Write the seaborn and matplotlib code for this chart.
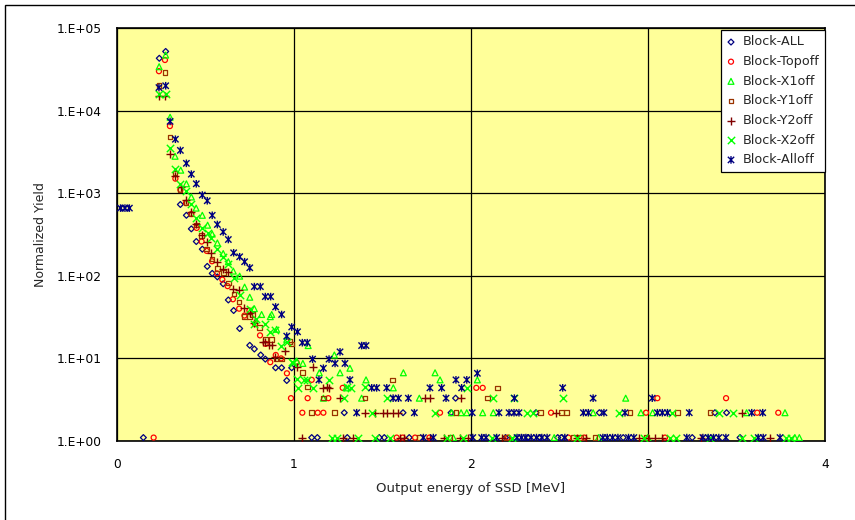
import numpy as np
import pandas as pd
import matplotlib
matplotlib.use("Agg")
import matplotlib.pyplot as plt
from matplotlib.path import Path
from matplotlib.patches import Rectangle
from matplotlib.ticker import FixedLocator, FixedFormatter
import seaborn as sns

# ---------------- data ----------------
all_x = [0.03, 0.06, 0.149, 0.239, 0.275, 0.358, 0.392, 0.42, 0.448, 0.482, 0.51, 0.538, 0.567, 0.60,
         0.629, 0.659, 0.693, 0.75, 0.776, 0.812, 0.838, 0.896, 0.93, 0.959, 0.987, 1.10, 1.132, 1.284,
         1.301, 1.482, 1.51, 1.616, 1.651, 1.887, 1.913, 2.195, 2.32, 2.367, 2.39, 2.49, 2.51, 2.725,
         2.86, 3.25, 3.378, 3.444, 3.52]
all_y = [660, 660, 1.1, 43000, 52000, 730, 540, 370, 260, 210, 130, 107, 97, 80,
         51, 38, 23, 14.4, 13, 11, 9.8, 7.7, 7.7, 5.4, 7.7, 1.1, 1.1, 2.2,
         1.1, 1.1, 1.1, 2.2, 1.1, 2.2, 3.3, 1.1, 1.1, 2.2, 1.1, 1.1, 1.1, 2.2,
         1.1, 1.1, 2.2, 2.2, 1.1]

top_x = [0.207, 0.237, 0.271, 0.299, 0.33, 0.358, 0.39, 0.42, 0.45, 0.478, 0.507, 0.537, 0.565, 0.595,
         0.625, 0.655, 0.69, 0.72, 0.748, 0.78, 0.808, 0.84, 0.866, 0.897, 0.927, 0.96, 0.983, 1.015,
         1.047, 1.077, 1.10, 1.134, 1.166, 1.194, 1.275, 1.58, 1.614, 1.684, 1.765, 1.825, 2.03, 2.066,
         2.21, 2.452, 2.55, 2.64, 2.989, 3.053, 3.096, 3.441, 3.617, 3.736]
top_y = [1.1, 30000, 41000, 6500, 1500, 1100, 760, 560, 380, 260, 200, 150, 107, 90,
         75, 52, 40, 33, 38, 26, 19, 15, 9.0, 11, 10, 6.6, 3.3, 8.9,
         2.2, 3.3, 5.5, 2.2, 2.2, 3.3, 4.4, 1.1, 1.1, 1.1, 1.1, 2.2, 4.4, 4.4,
         1.1, 2.2, 1.1, 1.1, 2.2, 3.3, 1.1, 3.3, 2.2, 2.2]

x1_x = [0.238, 0.275, 0.30, 0.328, 0.36, 0.392, 0.42, 0.447, 0.482, 0.512, 0.538, 0.567, 0.60, 0.629,
        0.657, 0.693, 0.721, 0.75, 0.776, 0.817, 0.866, 0.874, 0.902, 0.959, 1.015, 1.05, 1.08, 1.143,
        1.166, 1.228, 1.26, 1.294, 1.316, 1.382, 1.407, 1.561, 1.618, 1.708, 1.797, 1.825, 1.89, 1.90,
        1.944, 1.976, 2.036, 2.066, 2.126, 2.25, 2.47, 2.69, 2.72, 2.874, 2.96, 3.0, 3.026, 3.557,
        3.774, 3.83, 3.855]
x1_y = [34000, 47000, 8300, 2800, 1900, 1300, 900, 660, 540, 410, 320, 250, 186, 148,
        114, 99, 73, 55, 40, 34, 32, 34, 22.5, 17, 9.3, 8.7, 14.3, 6.7,
        3.3, 11, 6.7, 4.4, 7.6, 3.3, 5.5, 4.4, 6.7, 3.3, 6.7, 5.5, 2.2, 1.1,
        2.2, 2.2, 5.5, 2.2, 2.2, 1.1, 1.1, 2.2, 1.1, 3.3, 2.2, 1.1, 2.2, 2.2,
        2.2, 1.1, 1.1]

y1_x = [0.237, 0.271, 0.299, 0.328, 0.356, 0.39, 0.418, 0.448, 0.478, 0.507, 0.537, 0.567, 0.60, 0.629,
        0.66, 0.69, 0.72, 0.748, 0.767, 0.804, 0.838, 0.874, 0.898, 0.93, 0.977, 0.987, 1.047, 1.075,
        1.10, 1.166, 1.228, 1.401, 1.557, 1.708, 1.881, 1.915, 2.094, 2.15, 2.20, 2.393, 2.512, 2.54,
        2.578, 2.62, 2.70, 2.898, 2.99, 3.167, 3.35]
y1_y = [20000, 29000, 4800, 1750, 1100, 770, 560, 410, 310, 210, 160, 123, 110, 82,
        60, 48, 32, 32, 34, 23.6, 17, 17, 9.8, 9.8, 16, 15, 6.8, 4.5,
        2.2, 3.3, 2.2, 3.3, 5.5, 1.1, 1.1, 2.2, 3.3, 4.4, 1.1, 2.2, 2.2, 2.2,
        1.1, 1.1, 1.1, 2.2, 1.1, 2.2, 2.2]

y2_x = [0.237, 0.271, 0.30, 0.33, 0.36, 0.39, 0.418, 0.447, 0.478, 0.51, 0.533, 0.567, 0.60, 0.629,
        0.657, 0.69, 0.72, 0.75, 0.776, 0.823, 0.836, 0.86, 0.874, 0.893, 0.949, 1.019, 1.047, 1.105,
        1.166, 1.185, 1.198, 1.26, 1.275, 1.335, 1.40, 1.46, 1.50, 1.525, 1.56, 1.59, 1.60, 1.621,
        1.74, 1.768, 1.766, 1.847, 1.938, 1.944, 1.985, 2.173, 2.48, 2.60, 2.65, 2.95, 3.0, 3.04,
        3.08, 3.30, 3.529, 3.69]
y2_y = [15000, 15000, 3000, 1600, 1200, 830, 600, 420, 310, 260, 190, 145, 120, 110,
        69, 67, 41, 35, 27, 16, 16, 14.5, 14.5, 10.5, 12.4, 7.8, 1.1, 7.8,
        4.4, 4.5, 4.4, 3.3, 1.1, 1.1, 2.2, 2.2, 2.2, 2.2, 2.2, 2.2, 1.1, 1.1,
        3.3, 3.3, 1.1, 1.1, 1.1, 3.3, 1.1, 1.1, 2.2, 1.1, 1.1, 1.1, 1.1, 1.1,
        1.1, 1.1, 2.2, 1.1]

x2_x = [0.237, 0.275, 0.30, 0.33, 0.358, 0.39, 0.42, 0.447, 0.482, 0.512, 0.533, 0.567, 0.60, 0.629,
        0.663, 0.695, 0.752, 0.774, 0.785, 0.836, 0.864, 0.893, 0.927, 0.96, 0.987, 0.997, 1.015, 1.02,
        1.056, 1.071, 1.109, 1.198, 1.213, 1.241, 1.284, 1.297, 1.322, 1.363, 1.40, 1.439, 1.458, 1.524,
        1.542, 1.797, 1.862, 1.957, 1.98, 2.117, 2.126, 2.23, 2.245, 2.314, 2.352, 2.518, 2.60, 2.838,
        2.98, 3.124, 3.137, 3.16, 3.35, 3.403, 3.478, 3.53, 3.60, 3.78, 3.81]
x2_y = [16000, 16000, 3500, 1950, 1300, 1050, 730, 500, 380, 330, 290, 210, 170, 140,
        93, 58, 40, 26, 30, 26, 21, 22, 14, 16, 9.1, 8.7, 5.7, 4.4,
        5.5, 5.5, 4.4, 5.5, 1.1, 1.1, 3.3, 4.5, 4.4, 1.1, 4.5, 2.2, 1.1, 3.3,
        1.1, 2.2, 1.1, 1.1, 4.4, 1.1, 3.3, 1.1, 3.3, 2.2, 2.2, 3.3, 1.1, 2.2,
        1.1, 1.1, 2.2, 1.1, 1.1, 2.2, 2.2, 1.1, 1.1, 1.1, 1.1]

aoff_x = [0.02, 0.045, 0.07, 0.237, 0.275, 0.30, 0.33, 0.358, 0.392, 0.42, 0.448, 0.482, 0.51, 0.538,
          0.567, 0.60, 0.629, 0.659, 0.693, 0.721, 0.75, 0.776, 0.81, 0.838, 0.868, 0.896, 0.93, 0.959,
          0.987, 1.02, 1.047, 1.075, 1.105, 1.141, 1.166, 1.198, 1.232, 1.26, 1.288, 1.316, 1.354, 1.382,
          1.407, 1.439, 1.467, 1.524, 1.56, 1.59, 1.646, 1.68, 1.731, 1.768, 1.787, 1.834, 1.859, 1.915,
          1.947, 1.976, 2.007, 2.01, 2.036, 2.06, 2.085, 2.145, 2.158, 2.215, 2.243, 2.245, 2.26, 2.271,
          2.285, 2.31, 2.34, 2.37, 2.40, 2.43, 2.518, 2.53, 2.635, 2.663, 2.69, 2.745, 2.751, 2.77,
          2.80, 2.83, 2.87, 2.89, 2.92, 3.024, 3.053, 3.081, 3.11, 3.219, 3.233, 3.31, 3.34, 3.37,
          3.40, 3.44, 3.586, 3.623, 3.648, 3.651, 3.746]
aoff_y = [660, 660, 660, 19000, 20000, 7400, 4500, 3300, 2300, 1700, 1300, 950, 810, 540,
          418, 340, 275, 190, 170, 148, 125, 74, 74, 56, 56, 42, 34, 18.6,
          24, 21, 15.5, 15.5, 9.8, 5.5, 7.6, 9.8, 8.7, 12, 8.7, 5.5, 2.2, 14.3,
          14.3, 4.4, 4.4, 4.4, 3.3, 3.3, 3.3, 2.2, 1.1, 4.4, 1.1, 4.4, 3.3, 5.5,
          4.4, 5.5, 2.2, 1.1, 6.6, 1.1, 1.1, 1.1, 2.2, 2.2, 2.2, 3.3, 1.1, 2.2,
          1.1, 1.1, 1.1, 1.1, 1.1, 1.1, 4.4, 1.1, 2.2, 2.2, 3.3, 1.1, 2.2, 1.1,
          1.1, 1.1, 2.2, 1.1, 1.1, 3.3, 2.2, 2.2, 2.2, 1.1, 2.2, 1.1, 1.1, 1.1,
          1.1, 1.1, 2.2, 1.1, 2.2, 1.1, 1.1]

series_names = ["Block-ALL", "Block-Topoff", "Block-X1off", "Block-Y1off",
                "Block-Y2off", "Block-X2off", "Block-Alloff"]
series_x = [all_x, top_x, x1_x, y1_x, y2_x, x2_x, aoff_x]
series_y = [all_y, top_y, x1_y, y1_y, y2_y, x2_y, aoff_y]

x_ticks = [0, 1, 2, 3, 4]
x_tick_labels = ["0", "1", "2", "3", "4"]
y_ticks = [1, 10, 100, 1000, 10000, 100000]
y_tick_labels = ["1.E+00", "1.E+01", "1.E+02", "1.E+03", "1.E+04", "1.E+05"]

# ---------------- styling ----------------
sns.set_style("white")
plt.rcParams["font.family"] = ["DejaVu Sans"]

star = Path([(-1, -1), (1, 1), (-1, 1), (1, -1), (0, -1.2), (0, 1.2)],
            [Path.MOVETO, Path.LINETO, Path.MOVETO, Path.LINETO, Path.MOVETO, Path.LINETO])

styles = [
    dict(marker="D", color="#000080", s=9, facecolor="none", edgecolor="#000080", linewidth=0.9),
    dict(marker="o", color="#FF0000", s=13, facecolor="none", edgecolor="#FF0000", linewidth=0.9),
    dict(marker="^", color="#00FF00", s=18, facecolor="none", edgecolor="#00FF00", linewidth=0.9),
    dict(marker="s", color="#993300", s=11, facecolor="none", edgecolor="#993300", linewidth=0.9),
    dict(marker="+", color="#800000", s=36, linewidth=1.0),
    dict(marker="x", color="#00FF00", s=28, linewidth=1.0),
    dict(marker=star, color="#000080", s=30, facecolor="none", edgecolor="#000080", linewidth=1.0),
]

fig = plt.figure(figsize=(8.55, 5.2), dpi=100)
ax = fig.add_axes([117 / 855, 1 - 441 / 520, (825 - 117) / 855, (441 - 28) / 520])
ax.set_facecolor("#FFFF99")

for name, xs, ys, st in zip(series_names, series_x, series_y, styles):
    df = pd.DataFrame({"x": xs, "y": ys})
    sns.scatterplot(data=df, x="x", y="y", ax=ax, label=name, legend=False, zorder=3, **st)

ax.set_yscale("log")
ax.set_xlim(0, 4)
ax.set_ylim(1, 100000)
ax.xaxis.set_major_locator(FixedLocator(x_ticks))
ax.xaxis.set_major_formatter(FixedFormatter(x_tick_labels))
ax.yaxis.set_major_locator(FixedLocator(y_ticks))
ax.yaxis.set_major_formatter(FixedFormatter(y_tick_labels))
ax.yaxis.set_minor_locator(FixedLocator([]))
ax.tick_params(axis="both", length=0, labelsize=8.8, colors="black")
ax.tick_params(axis="x", pad=12)
ax.tick_params(axis="y", pad=11)

ax.grid(True, which="major", color="black", linewidth=0.9)
ax.set_axisbelow(True)
for sp in ax.spines.values():
    sp.set_visible(True)
    sp.set_color("black")
    sp.set_linewidth(1.2)

ax.set_xlabel("Output energy of SSD [MeV]", fontsize=9.5, labelpad=8)
ax.set_ylabel("Normalized Yield", fontsize=9, labelpad=7)

leg = ax.legend(loc="upper right", bbox_to_anchor=(1.0, 0.996), fontsize=9.2,
                frameon=True, fancybox=False, framealpha=1, edgecolor="black",
                handlelength=0.7, handletextpad=0.55, labelspacing=0.52,
                borderpad=0.45, borderaxespad=0.0, scatterpoints=1)
leg.get_frame().set_linewidth(0.9)
leg.set_zorder(10)

fig.patches.append(Rectangle((5 / 855, -0.1), 1.2, 1 - 5 / 520 + 0.1,
                             transform=fig.transFigure, fill=False,
                             edgecolor="black", linewidth=1.0))

fig.savefig("out.png", dpi=100)
